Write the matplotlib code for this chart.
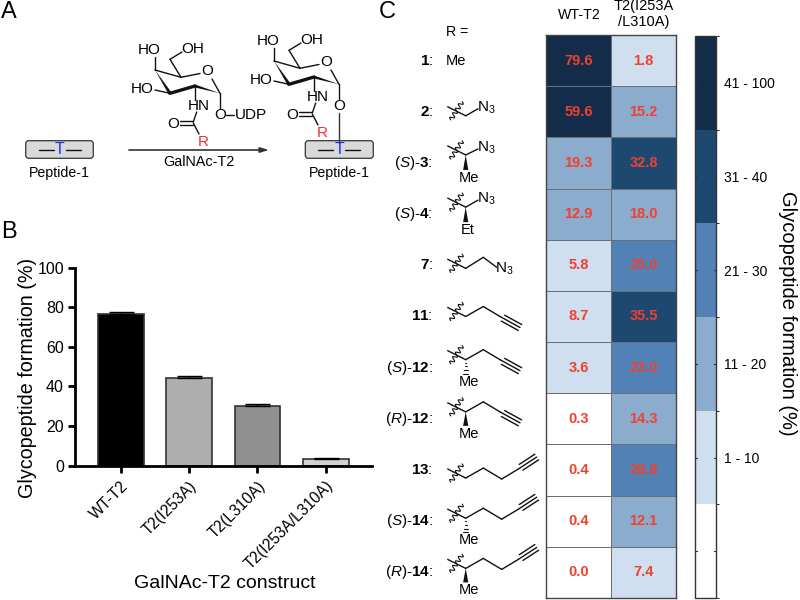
# -*- coding: utf-8 -*-
import numpy as np
import matplotlib
matplotlib.use("Agg")
import matplotlib.pyplot as plt
from matplotlib.colors import ListedColormap, BoundaryNorm
from matplotlib.patches import FancyBboxPatch, Polygon

plt.rcParams['font.family'] = ['Liberation Sans', 'DejaVu Sans']
plt.rcParams['mathtext.fontset'] = 'custom'
plt.rcParams['mathtext.rm'] = 'Liberation Sans'
plt.rcParams['mathtext.it'] = 'Liberation Sans:italic'
plt.rcParams['mathtext.bf'] = 'Liberation Sans:bold'

# panel B
constructs = ['WT-T2', 'T2(I253A)', 'T2(L310A)', 'T2(I253A/L310A)']
formation = [76.7, 44.5, 30.2, 3.2]
formationErr = [0.7, 1.0, 1.0, 0.5]
barColors = ['#000000', '#aeaeae', '#909090', '#d2d2d2']

# panel C
rowLabels = ['$\\mathbf{1}$:', '$\\mathbf{2}$:', '($\\mathit{S}$)-$\\mathbf{3}$:',
             '($\\mathit{S}$)-$\\mathbf{4}$:', '$\\mathbf{7}$:', '$\\mathbf{11}$:',
             '($\\mathit{S}$)-$\\mathbf{12}$:', '($\\mathit{R}$)-$\\mathbf{12}$:',
             '$\\mathbf{13}$:', '($\\mathit{S}$)-$\\mathbf{14}$:', '($\\mathit{R}$)-$\\mathbf{14}$:']
wtValues = [79.6, 59.6, 19.3, 12.9, 5.8, 8.7, 3.6, 0.3, 0.4, 0.4, 0.0]
mutValues = [1.8, 15.2, 32.8, 18.0, 25.0, 35.5, 23.0, 14.3, 28.8, 12.1, 7.4]
binEdges = [0, 1, 11, 21, 31, 41, 100]
binLabels = ['', '1 - 10', '11 - 20', '21 - 30', '31 - 40', '41 - 100']
binColors = ['#ffffff', '#d0dff0', '#8cacce', '#5282b5', '#1d4870', '#122c49']

W, H = 800, 600


def axPx(fig, x0, y0, x1, y1):
    # axes from pixel box, y measured from the top
    return fig.add_axes([x0 / W, 1 - y1 / H, (x1 - x0) / W, (y1 - y0) / H])


fig = plt.figure(figsize=(8, 6), dpi=100)

#%% panel B bars
axB = axPx(fig, 75, 267.7, 372, 465.7)
xpos = np.arange(len(constructs))
axB.bar(xpos, formation, width=0.67, color=barColors, edgecolor='#333333', linewidth=1.2,
        yerr=[[0] * 4, formationErr], error_kw=dict(ecolor='black', elinewidth=1.0, capsize=9, capthick=1.0))
axB.set_xlim(-0.668, 3.674)
axB.set_ylim(0, 100)
axB.set_yticks([0, 20, 40, 60, 80, 100])
axB.set_xticks(xpos)
axB.set_xticklabels(constructs, rotation=45, ha='right', rotation_mode='anchor', fontsize=11.2)
axB.tick_params(axis='y', width=2, length=5, labelsize=11.5, pad=3)
axB.tick_params(axis='x', width=2, length=5, pad=4)
axB.spines['top'].set_visible(False)
axB.spines['right'].set_visible(False)
axB.spines['left'].set_linewidth(2)
axB.spines['bottom'].set_linewidth(2)
axB.patch.set_alpha(0)

#%% panel C heatmap
axC = axPx(fig, 546, 35, 676, 598)
grid = np.array([wtValues, mutValues]).T
cmap = ListedColormap(binColors)
norm = BoundaryNorm(binEdges, cmap.N)
mesh = axC.pcolormesh(grid, cmap=cmap, norm=norm, edgecolors='#6b7078', linewidth=0.5)
axC.invert_yaxis()
axC.set_xticks([])
axC.set_yticks([])
for spine in axC.spines.values():
    spine.set_linewidth(1.0)
    spine.set_color('#444444')
for i in range(grid.shape[0]):
    for j in range(grid.shape[1]):
        axC.text(j + 0.5, i + 0.5, '%.1f' % grid[i, j], ha='center', va='center',
                 color='#f0402f', fontsize=10.5, fontweight='bold')

#%% colourbar
cax = axPx(fig, 695, 36, 716, 598)
ticks = [(binEdges[k] + binEdges[k + 1]) / 2 for k in range(len(binLabels))]
cb = fig.colorbar(mesh, cax=cax, spacing='uniform', ticks=ticks, drawedges=False)
cb.ax.set_yticklabels(binLabels)
cb.ax.tick_params(length=0, labelsize=10, pad=6)
cb.outline.set_linewidth(1.0)
cb.outline.set_edgecolor('#333333')
for k in range(len(binLabels)):
    cb.ax.plot([0, 0.1], [ticks[k]] * 2, color='#333333', lw=0.8, transform=cb.ax.get_yaxis_transform())
    cb.ax.plot([0.9, 1], [ticks[k]] * 2, color='#333333', lw=0.8, transform=cb.ax.get_yaxis_transform())

#%% overlay in pixels for text and the chemistry drawings
ov = fig.add_axes([0, 0, 1, 1])
ov.set_xlim(0, W)
ov.set_ylim(H, 0)
ov.axis('off')
ov.patch.set_alpha(0)


def txt(x, y, s, size=10, color='black', **kw):
    kw.setdefault('ha', 'center')
    kw.setdefault('va', 'center')
    ov.text(x, y, s, fontsize=size, color=color, **kw)


def bond(x0, y0, x1, y1, lw=1.0, color='#111111'):
    ov.plot([x0, x1], [y0, y1], color=color, lw=lw, solid_capstyle='round')


def chain(pts):
    for a, b in zip(pts[:-1], pts[1:]):
        bond(a[0], a[1], b[0], b[1])


def wedge(x, y0, y1, w=2.6):
    ov.add_patch(Polygon([(x, y0), (x - w, y1), (x + w, y1)], closed=True, color='#111111', lw=0))


def hashed(x, y0, y1):
    for k, yy in enumerate(np.linspace(y0 + 3, y1, 4)):
        hw = 0.6 + 0.6 * k
        bond(x - hw, yy, x + hw, yy, lw=0.8)


def squiggle(x, y):
    # wavy attachment mark across the bond, (x, y) is the carbon next to it
    t = np.linspace(0, 1, 80)
    wave = 2.2 * np.sin(t * 8 * np.pi)
    px = x - 3.5 - 11.5 * t + wave * 0.8
    py = y - 14 + 18 * t + wave * 0.55
    ov.plot(px, py, color='#111111', lw=0.8)
    bond(x - 18, y - 9, x, y)


def triple(x0, y0, x1, y1):
    bond(x0, y0, x1, y1)
    dx, dy = x1 - x0, y1 - y0
    n = np.hypot(dx, dy)
    ox, oy = -dy / n * 3.4, dx / n * 3.4
    bond(x0 + ox + dx * 0.15, y0 + oy + dy * 0.15, x1 + ox, y1 + oy)
    bond(x0 - ox + dx * 0.15, y0 - oy + dy * 0.15, x1 - ox, y1 - oy)


def sugar(ox, oy):
    # GalNAc ring, offset from the position of the first one
    def p(x, y):
        return x + ox, y + oy
    C1, C5, C4, C3, C2 = p(220, 93.3), p(181, 77.3), p(155, 70), p(170, 93.3), p(195, 86)
    bond(*C1, *p(212, 79))
    txt(*p(206.7, 70.7), 'O', 11)
    bond(*p(200, 73.5), *C5)
    bond(*C5, *C4)
    ov.add_patch(Polygon([C4, (C3[0] - 1, C3[1] + 1.5), (C3[0] + 1, C3[1] - 1.5)], closed=True, color='#111111', lw=0))
    bond(*C3, *C2, lw=2.4)
    ov.add_patch(Polygon([(C2[0], C2[1] - 1.5), (C2[0], C2[1] + 1.5), C1], closed=True, color='#111111', lw=0))
    bond(*C5, *p(170, 59.3))
    bond(*p(170, 59.3), *p(182, 52))
    txt(*p(192.7, 49.3), 'OH', 11)
    bond(*C4, *p(155, 57))
    txt(*p(149, 50), 'HO', 11)
    bond(*C3, *p(155, 90))
    txt(*p(142, 89.3), 'HO', 11)
    bond(*C2, *p(195, 100))
    txt(*p(199, 105.7), 'HN', 11)
    bond(*p(196.7, 112), *p(193.3, 122))
    bond(*p(180, 121), *p(193.3, 121))
    bond(*p(180, 125), *p(193.3, 125))
    txt(*p(172.7, 123.7), 'O', 11)
    bond(*p(193.3, 123), *p(199, 134))
    txt(*p(203.3, 141.7), 'R', 11, color='#f0302a')
    bond(*C1, *p(220, 108))
    txt(*p(219.7, 114.7), 'O', 11)


def peptide(x0, x1):
    ov.add_patch(FancyBboxPatch((x0 + 3, 143.7), x1 - x0 - 6, 11.6, boxstyle='round,pad=3',
                                fc='#d9d9d9', ec='#333333', lw=0.9))
    cx = (x0 + x1) / 2
    bond(cx - 21, 149.7, cx - 6, 149.7, lw=1.0)
    bond(cx + 6, 149.7, cx + 21, 149.7, lw=1.0)
    txt(cx, 149.7, 'T', 11.5, color='#1a2fe0', zorder=5)
    txt(cx, 173.3, 'Peptide-1', 10.2)


#%% panel letters and titles
txt(1, 12, 'A', 17, ha='left')
txt(1, 232, 'B', 17, ha='left')
txt(379, 12, 'C', 17, ha='left')
txt(28, 378, 'Glycopeptide formation (%)', 14.2, rotation=90)
txt(225, 583, 'GalNAc-T2 construct', 14)
txt(788, 313, 'Glycopeptide formation (%)', 14.5, rotation=270)
txt(579, 15, 'WT-T2', 10.2)
txt(644, 6, 'T2(I253A', 10.5)
txt(644, 22, '/L310A)', 10.5)
txt(457, 32, 'R =', 10.2)

#%% panel A
peptide(25.7, 93.3)
peptide(305.3, 373.3)
sugar(0, 0)
sugar(119, -9)
bond(339, 113, 339, 143, lw=1.0, color='#333333')
bond(226, 114.7, 234, 114.7)
txt(250.7, 114.7, 'UDP', 11)
ov.annotate('', xy=(269, 150), xytext=(129, 150),
            arrowprops=dict(arrowstyle='-|>,head_length=0.5,head_width=0.15', color='#333333', lw=1.2, shrinkA=0, shrinkB=0))
txt(199, 161.7, 'GalNAc-T2', 10.4)

#%% panel C row labels and R groups, offsets from the row centre
rowH = (598 - 35) / len(rowLabels)
rowY = [35 + rowH * (i + 0.5) for i in range(len(rowLabels))]
for y, label in zip(rowY, rowLabels):
    txt(433, y, label, 11, ha='right')

cx = 465.7
txt(456, rowY[0], 'Me', 10.5)

y = rowY[1]
squiggle(cx, y + 4)
chain([(cx, y + 4), (478, y - 3)])
txt(486, y - 4, 'N$_3$', 11)

y = rowY[2]
squiggle(cx, y - 8)
chain([(cx, y - 8), (478, y - 14)])
txt(486, y - 15, 'N$_3$', 11)
wedge(cx, y - 8, y + 7)
txt(469, y + 15, 'Me', 10.5)

y = rowY[3]
squiggle(cx, y - 7)
chain([(cx, y - 7), (478, y - 14)])
txt(486, y - 15, 'N$_3$', 11)
wedge(cx, y - 7, y + 8)
txt(468, y + 16, 'Et', 10.5)

y = rowY[4]
squiggle(cx, y + 3)
chain([(cx, y + 3), (483.3, y - 8), (496.7, y + 2)])
txt(504, y + 3, 'N$_3$', 11)

for i, mark in [(5, None), (6, 'hash'), (7, 'wedge')]:
    y = rowY[i]
    c0 = y + {5: 0, 6: -8, 7: -7}[i]
    squiggle(cx, c0)
    chain([(cx, c0), (483.3, c0 - 10), (500, c0)])
    triple(500, c0, 520, c0 + 11)
    if mark == 'hash':
        hashed(cx, c0, c0 + 14)
    if mark == 'wedge':
        wedge(cx, c0, c0 + 14)
    if mark:
        txt(469, c0 + 22, 'Me', 10.5)

for i, mark in [(8, None), (9, 'hash'), (10, 'wedge')]:
    y = rowY[i]
    c0 = y + {8: 8, 9: -3, 10: -4}[i]
    squiggle(cx, c0)
    chain([(cx, c0), (483.3, c0 - 10), (501.7, c0 + 1), (518.3, c0 - 9)])
    triple(518.3, c0 - 9, 536.7, c0 - 21)
    if mark == 'hash':
        hashed(cx, c0, c0 + 14)
    if mark == 'wedge':
        wedge(cx, c0, c0 + 14)
    if mark:
        txt(469, c0 + 22, 'Me', 10.5)

fig.savefig('out.png', dpi=100)
